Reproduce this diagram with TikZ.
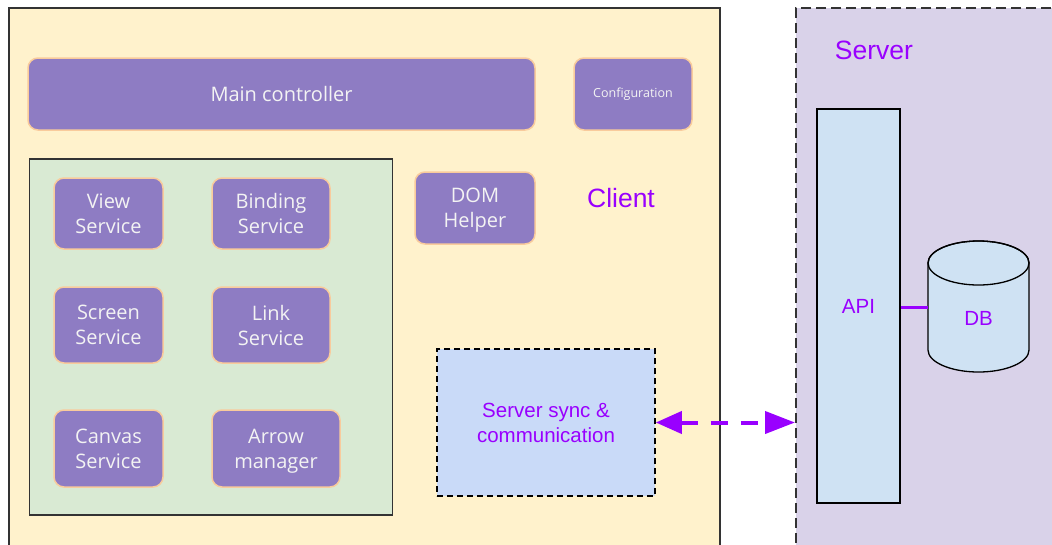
\documentclass[tikz,border=0pt]{standalone}
\usepackage{fontspec}
\setmainfont{Liberation Sans}
\newfontfamily\boxfont{Open Sans}
\usetikzlibrary{arrows.meta}
\definecolor{clientbg}{HTML}{FFF2CC}
\definecolor{serverbg}{HTML}{D9D2E9}
\definecolor{groupbg}{HTML}{D9EAD3}
\definecolor{modfill}{HTML}{8E7CC3}
\definecolor{modline}{HTML}{F9CB9C}
\definecolor{modtext}{HTML}{F3F3F3}
\definecolor{syncbg}{HTML}{C9DAF8}
\definecolor{apibg}{HTML}{CFE2F3}
\definecolor{violet}{HTML}{9900FF}
\definecolor{frame}{HTML}{333333}
\tikzset{
  module/.style={rectangle, rounded corners=10pt, fill=modfill, draw=modline,
    line width=1.5pt, inner sep=0pt, align=center, text=modtext,
    font=\boxfont\fontsize{20}{25}\selectfont},
  label/.style={text=violet, inner sep=0pt, align=center},
  store/.style={rectangle, fill=apibg, draw=black, line width=1.3pt, inner sep=0pt},
}
\begin{document}
\begin{tikzpicture}[x=1pt,y=-1pt]
\clip (0,0) rectangle (1052,544);
\fill[white] (0,0) rectangle (1052,544);

% client area
\node[rectangle, fill=clientbg, draw=frame, line width=1.5pt, minimum width=711, minimum height=600, anchor=north west, inner sep=0pt] (client) at (8,7) {};
% server area
\node[rectangle, fill=serverbg, draw=frame, line width=2pt, dash pattern=on 10pt off 5pt, minimum width=300, minimum height=600, anchor=north west, inner sep=0pt] (server) at (795,7) {};

% service group
\node[rectangle, fill=groupbg, draw=frame, line width=1.5pt, minimum width=363, minimum height=356, inner sep=0pt] (group) at (211,337) {};

% modules
\node[module, minimum width=507, minimum height=72] (main) at (281.5,94) {Main controller};
\node[module, minimum width=118, minimum height=72, font=\boxfont\fontsize{12.5}{15}\selectfont] (config) at (633,94) {Configuration};
\node[module, minimum width=109, minimum height=71] (view) at (108.5,213.5) {View\\Service};
\node[module, minimum width=118, minimum height=71] (binding) at (271,213.5) {Binding\\Service};
\node[module, minimum width=109, minimum height=76] (screen) at (108.5,325) {Screen\\Service};
\node[module, minimum width=118, minimum height=76] (link) at (271,325) {Link\\Service};
\node[module, minimum width=109, minimum height=77] (canvas) at (108.5,448.5) {Canvas\\Service};
\node[module, minimum width=128, minimum height=77, text depth=0pt] (arrowmgr) at (276,448.5) {Arrow\\manager};
\node[module, minimum width=120, minimum height=72, text depth=0pt] (dom) at (475,208) {DOM\\Helper};

% area titles
\node[label, font=\fontsize{26.5}{30}\selectfont] (clientlbl) at (621,198) {Client};
\node[label, font=\fontsize{26.5}{30}\selectfont] (serverlbl) at (874,50) {Server};

% sync module
\node[rectangle, fill=syncbg, draw=black, line width=1.6pt, dash pattern=on 6pt off 4pt, minimum width=218, minimum height=147, inner sep=0pt, text=violet, align=center, font=\fontsize{20.5}{25}\selectfont] (sync) at (546,422.5) {Server sync \&\\communication};

% API and database
\node[store, minimum width=83, minimum height=394, text=violet, font=\fontsize{20.5}{24}\selectfont] (api) at (858.5,306) {API};
\draw[fill=apibg, line width=1.3pt] (928,263) -- (928,350)
  arc[start angle=180, end angle=0, x radius=50.5, y radius=22] -- (1029,263)
  arc[start angle=0, end angle=-180, x radius=50.5, y radius=22] -- cycle;
\draw[line width=1.3pt] (978.5,263) ellipse [x radius=50.5, y radius=22];
\node[label, font=\fontsize{20.5}{24}\selectfont] (db) at (978.5,318) {DB};
\coordinate (dbwall) at (928,307);

% connectors
\draw[violet, line width=3pt] (api.east |- dbwall) -- (dbwall);
\draw[violet, line width=4pt, dash pattern=on 17pt off 13pt,
  {Triangle[length=26pt, width=22pt]}-{Triangle[length=30pt, width=22pt]}]
  (sync.east) -- (server.west |- sync.east);
\end{tikzpicture}
\end{document}
